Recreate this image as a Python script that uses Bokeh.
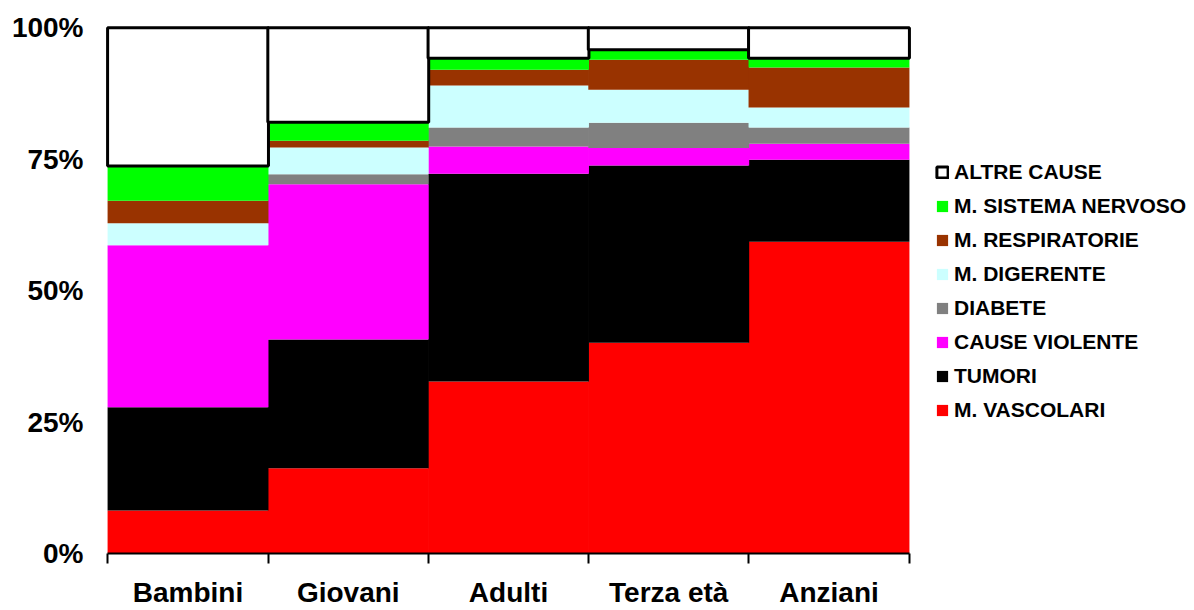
from bokeh.plotting import figure
from bokeh.models import (Range1d, FixedTicker, PrintfTickFormatter, Legend,
                          LegendItem, ColumnDataSource)
from bokeh.embed import file_html
from bokeh.resources import INLINE

categories = ["Bambini", "Giovani", "Adulti", "Terza età", "Anziani"]

vascolari    = [8.2, 16.2, 32.7, 40.1, 59.3]
tumori       = [19.6, 24.5, 39.5, 33.7, 15.6]
violente     = [30.8, 29.5, 5.2, 3.3, 3.0]
diabete      = [0.0, 1.9, 3.6, 4.8, 3.1]
digerente    = [4.2, 5.1, 8.0, 6.3, 3.8]
respiratorie = [4.3, 1.3, 3.0, 5.7, 7.6]
nervoso      = [6.6, 3.5, 2.2, 1.9, 1.8]
altre        = [26.3, 18.0, 5.8, 4.2, 5.8]

series_names = ["M. VASCOLARI", "TUMORI", "CAUSE VIOLENTE", "DIABETE",
                "M. DIGERENTE", "M. RESPIRATORIE", "M. SISTEMA NERVOSO",
                "ALTRE CAUSE"]
series_keys = ["vascolari", "tumori", "violente", "diabete", "digerente",
               "respiratorie", "nervoso", "altre"]
colors = ["#FF0000", "#000000", "#FF00FF", "#808080", "#CCFFFF",
          "#993300", "#00FF00", "#FFFFFF"]
y_ticks = [0, 25, 50, 75, 100]

n_cat = len(categories)
x_pos = [i + 0.5 for i in range(n_cat)]
boundaries = list(range(n_cat + 1))

src = ColumnDataSource(dict(x=x_pos, vascolari=vascolari, tumori=tumori,
                            violente=violente, diabete=diabete,
                            digerente=digerente, respiratorie=respiratorie,
                            nervoso=nervoso, altre=altre))

FONT = "Liberation Sans"

# plot frame spans to the right edge so the legend can live inside it;
# the x axis itself is bounded to the categories
p = figure(width=1194, height=610, output_backend="svg", toolbar_location=None,
           x_range=Range1d(-0.015, 6.781),
           y_range=Range1d(0, 100.6),
           min_border_left=105, min_border_right=0,
           min_border_top=24, min_border_bottom=57)

line_colors = [None] * 7 + ["#000000"]
line_widths = [0] * 7 + [3]
renderers = p.vbar_stack(series_keys, x="x", width=1.004, source=src,
                         fill_color=colors, line_color=line_colors,
                         line_width=line_widths)

p.outline_line_color = None
p.xgrid.visible = False
p.ygrid.visible = False

# y axis
yax = p.yaxis[0]
yax.ticker = FixedTicker(ticks=y_ticks)
yax.formatter = PrintfTickFormatter(format="%d%%")
yax.axis_line_color = None
yax.major_tick_line_color = None
yax.minor_tick_line_color = None
yax.major_tick_out = 0
yax.major_tick_in = 0
yax.minor_tick_out = 0
yax.minor_tick_in = 0
yax.major_label_standoff = 22
yax.major_label_text_font = FONT
yax.major_label_text_font_style = "bold"
yax.major_label_text_font_size = "28px"
yax.major_label_text_color = "#000000"

# x axis
xax = p.xaxis[0]
xax.bounds = (0, n_cat)
xax.ticker = FixedTicker(ticks=x_pos, minor_ticks=boundaries)
xax.major_label_overrides = {x: c for x, c in zip(x_pos, categories)}
xax.axis_line_color = "#000000"
xax.axis_line_width = 2
xax.major_tick_line_color = None
xax.major_tick_out = 0
xax.major_tick_in = 0
xax.minor_tick_line_color = "#000000"
xax.minor_tick_line_width = 2
xax.minor_tick_out = 10
xax.minor_tick_in = 0
xax.major_label_standoff = 13
xax.major_label_text_font = FONT
xax.major_label_text_font_style = "bold"
xax.major_label_text_font_size = "28px"
xax.major_label_text_color = "#000000"

items = [LegendItem(label=n, renderers=[r])
         for n, r in zip(series_names, renderers)][::-1]
legend = Legend(items=items, location=(830, 131),
                label_text_font=FONT, label_text_font_style="bold",
                label_text_font_size="21px", label_text_color="#000000",
                glyph_width=14, glyph_height=14, label_standoff=5,
                spacing=10, padding=0, margin=0,
                border_line_color=None, background_fill_alpha=0)
p.add_layout(legend, "center")

open("out.html", "w").write(file_html(p, INLINE))
